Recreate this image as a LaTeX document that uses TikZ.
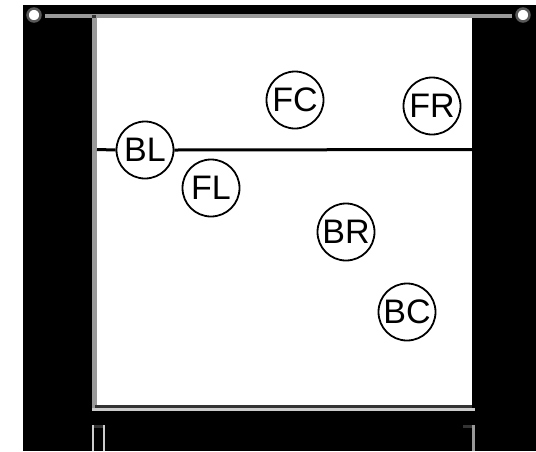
\documentclass[tikz,border=0pt]{standalone}
\usepackage{fontspec}
\setmainfont{Liberation Sans}
\begin{document}
\begin{tikzpicture}[x=1pt,y=-1pt,
  spk/.style={circle,draw=black,line width=1.8pt,fill=white,minimum size=57pt,inner sep=0pt,
    font=\fontsize{34}{34}\selectfont},
  knob/.style={circle,draw=gray!70!black,line width=2.5pt,fill=white,minimum size=13pt,inner sep=0pt},
  ]
\definecolor{mgray}{HTML}{999999}
\definecolor{lgray}{HTML}{CCCCCC}
\definecolor{dgray}{HTML}{333333}
\useasboundingbox (0,0) rectangle (536,451);
% frame
\fill[black] (23,5) rectangle (536,451);
\fill[white] (97,18) rectangle (472,405);
\fill[mgray] (45,14) rectangle (512,18);
\fill[dgray] (92,15) rectangle (96,18);
\fill[mgray] (92,18) rectangle (97,408);
\fill[dgray] (95,405) rectangle (472,408);
\fill[lgray] (92,408) rectangle (475,411);
% bottom ticks
\fill[lgray] (92,425) rectangle (94,451);
\fill[lgray] (103,425) rectangle (105,451);
\fill[dgray] (94,425) rectangle (103,428);
\fill[dgray] (463,425) rectangle (472,428);
\fill[mgray] (472,425) rectangle (475,451);
% corner knobs
\node[knob] (k1) at (34,15) {};
\node[knob] (k2) at (523,15) {};
% line
\coordinate (hl) at (97,149.5);
\coordinate (hr) at (472,149.5);
\node[spk] (BL) at (145,150) {BL};
\draw[line width=3pt] (hl) -- (BL.west);
\draw[line width=3pt] (BL.east) -- (hr);
\node[spk] (FL) at (211,188) {FL};
\node[spk] (FC) at (295,100) {FC};
\node[spk] (FR) at (432,106) {FR};
\node[spk] (BR) at (346,232) {BR};
\node[spk] (BC) at (407,312) {BC};
\end{tikzpicture}
\end{document}
